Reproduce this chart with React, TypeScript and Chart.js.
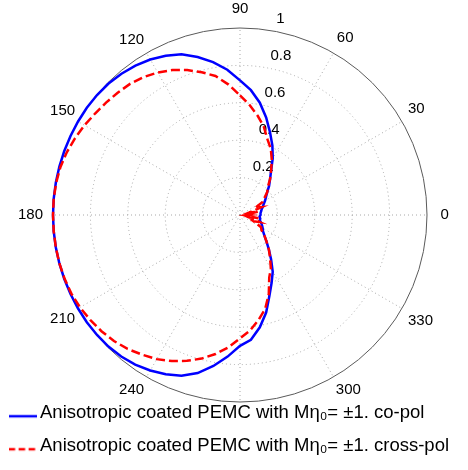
import React, { useEffect, useRef } from "react";
import { Chart, registerables } from "chart.js";

Chart.register(...registerables);

// Angle categories (degrees), in the order the radial chart walks round (clockwise from the top).
const ANGLES = [
  90, 85, 80, 75, 70, 65, 60, 55, 50, 45, 40, 35, 30, 25, 20, 15, 10, 5,
  0, 355, 350, 345, 340, 335, 330, 325, 320, 315, 310, 305, 300, 295, 290, 285,
  280, 275, 270, 265, 260, 255, 250, 245, 240, 235, 230, 225, 220, 215, 210, 205,
  200, 195, 190, 185, 180, 175, 170, 165, 160, 155, 150, 145, 140, 135, 130, 125,
  120, 115, 110, 105, 100, 95,
];

// Co-pol pattern (normalised), same order as ANGLES.
const CO_POL = [
  0.72, 0.67, 0.61, 0.54, 0.47, 0.41, 0.35, 0.29, 0.25, 0.22, 0.19, 0.17, 0.155, 0.14, 0.13, 0.12, 0.115, 0.11,
  0.11, 0.105, 0.11, 0.11, 0.12, 0.13, 0.14, 0.15, 0.17, 0.2, 0.24, 0.29, 0.35, 0.4, 0.46, 0.54,
  0.61, 0.67, 0.7, 0.76, 0.82, 0.875, 0.915, 0.94, 0.96, 0.977, 0.988, 0.995, 0.998, 1.0, 1.0, 1.0,
  1.0, 1.0, 1.0, 1.0, 1.0, 1.0, 1.0, 1.0, 1.0, 1.0, 1.0, 1.0, 0.998, 0.994, 0.986, 0.975,
  0.96, 0.94, 0.915, 0.875, 0.83, 0.78,
];

// Cross-pol pattern (normalised), same order as ANGLES; noisy near 0 degrees.
const CROSS_POL = [
  0.64, 0.59, 0.54, 0.49, 0.43, 0.39, 0.34, 0.29, 0.25, 0.21, 0.19, 0.16, 0.14, 0.09, 0.12, 0.05, 0.1, 0.03,
  0.05, 0.03, 0.1, 0.05, 0.11, 0.08, 0.13, 0.14, 0.17, 0.2, 0.24, 0.28, 0.33, 0.37, 0.45, 0.52,
  0.57, 0.62, 0.66, 0.71, 0.755, 0.795, 0.83, 0.862, 0.89, 0.912, 0.935, 0.953, 0.967, 0.978, 0.988, 0.995,
  0.998, 1.0, 1.0, 1.0, 1.0, 1.0, 0.998, 0.994, 0.985, 0.973, 0.96, 0.946, 0.935, 0.925, 0.915, 0.9,
  0.88, 0.855, 0.825, 0.79, 0.755, 0.7,
];

// Angle labels printed by the radial scale (90 is printed beside the ticks; 270 sits under the legend).
const SHOWN_ANGLES = [0, 30, 60, 120, 150, 180, 210, 240, 300, 330];
const TOP_ANGLE_LABEL = "90";
const SPOKE_ANGLES = [0, 30, 60, 90, 120, 150, 180, 210, 240, 270, 300, 330];
const RADIAL_TICKS = [0.2, 0.4, 0.6, 0.8, 1];

const SERIES_NAMES = [
  "Anisotropic coated PEMC with M\u03B7\u2080= \u00B11. co-pol",
  "Anisotropic coated PEMC with M\u03B7\u2080= \u00B11. cross-pol",
];

const FONT_FAMILY = "Arial, 'Liberation Sans', Helvetica, sans-serif";

// Label gap (px) outside the outer circle for each printed angle label.
const LABEL_GAP: Record<number, number> = {
  0: 13.5, 30: 7, 60: 6.7, 120: 4.7, 150: 3.4, 180: 10, 210: 3.4, 240: 4.7, 300: 4.7, 330: 7,
};

const radialTextPlugin = {
  id: "radialText",
  beforeDatasetsDraw(chart: any) {
    const scale = chart.scales.r;
    const ctx = chart.ctx;
    ctx.save();
    ctx.font = `15px ${FONT_FAMILY}`;
    ctx.fillStyle = "#000";
    ctx.textBaseline = "middle";
    ctx.textAlign = "left";
    const a = (81 * Math.PI) / 180;
    RADIAL_TICKS.forEach((v) => {
      const d = scale.getDistanceFromCenterForValue(v);
      ctx.fillText(String(v), scale.xCenter + d * Math.cos(a) + 7, scale.yCenter - d * Math.sin(a) - 11);
    });
    ctx.textAlign = "center";
    const outer = scale.getDistanceFromCenterForValue(1);
    ctx.fillText(TOP_ANGLE_LABEL, scale.xCenter, scale.yCenter - outer * 1.1);
    ctx.restore();
  },
};

function makeSwatch(color: string, dash: number[]) {
  const c = document.createElement("canvas");
  c.width = 28;
  c.height = 14;
  const g = c.getContext("2d");
  if (g) {
    g.strokeStyle = color;
    g.lineWidth = 2.5;
    g.setLineDash(dash);
    g.beginPath();
    g.moveTo(0, 10);
    g.lineTo(28, 10);
    g.stroke();
  }
  return c;
}

export default function App() {
  const canvasRef = useRef<HTMLCanvasElement | null>(null);

  useEffect(() => {
    document.body.style.margin = "0";
    document.body.style.overflow = "hidden";
    const canvas = canvasRef.current;
    if (!canvas) return;

    const swatches = [makeSwatch("#0000ff", []), makeSwatch("#ff0000", [6.5, 3.5])];
    const defaultLabels = (Chart.defaults as any).plugins.legend.labels.generateLabels;

    const chart = new Chart(canvas, {
      type: "radar",
      data: {
        labels: ANGLES,
        datasets: [
          {
            label: SERIES_NAMES[0],
            data: CO_POL,
            borderColor: "#0000ff",
            backgroundColor: "rgba(0,0,0,0)",
            borderWidth: 2.5,
            pointRadius: 0,
            pointHoverRadius: 0,
            fill: false,
            tension: 0,
            order: 1,
          },
          {
            label: SERIES_NAMES[1],
            data: CROSS_POL,
            borderColor: "#ff0000",
            backgroundColor: "rgba(0,0,0,0)",
            borderWidth: 2.5,
            borderDash: [9, 4],
            pointRadius: 0,
            pointHoverRadius: 0,
            fill: false,
            tension: 0,
            order: 0,
          },
        ],
      },
      options: {
        responsive: false,
        animation: false,
        events: [],
        layout: { padding: 0 },
        plugins: {
          tooltip: { enabled: false },
          legend: {
            display: true,
            position: "chartArea",
            align: "end",
            labels: {
              usePointStyle: true,
              pointStyleWidth: 16.25,
              padding: 14.5,
              color: "#000",
              font: { family: FONT_FAMILY, size: 18.5 },
              sort: (a: any, b: any) => a.datasetIndex - b.datasetIndex,
              generateLabels: (c: any) =>
                defaultLabels(c).map((it: any) => ({ ...it, pointStyle: swatches[it.datasetIndex] })),
            },
          },
        },
        scales: {
          r: {
            min: 0,
            max: 1,
            startAngle: 0,
            ticks: { display: false, stepSize: 0.2 },
            grid: {
              circular: true,
              lineWidth: 1,
              color: (c: any) => (c.tick && c.tick.value >= 1 ? "#5a5a5a" : "#a8a8a8"),
            },
            border: {
              dash: (c: any) => (c.tick && c.tick.value >= 1 ? [] : [1, 3]),
            },
            angleLines: {
              display: true,
              color: "#a8a8a8",
              borderDash: [1, 3],
              lineWidth: (c: any) => (SPOKE_ANGLES.includes(ANGLES[c.index]) ? 1 : 0),
            },
            pointLabels: {
              display: true,
              color: "#000",
              font: { family: FONT_FAMILY, size: 15 },
              callback: (label: any) => (SHOWN_ANGLES.includes(Number(label)) ? String(label) : ""),
              padding: (c: any) => {
                const a = ANGLES[c.index];
                if (a === 270) return 30; // room kept below the circle
                if (a === 90) return -9.5; // room kept above the circle
                if (LABEL_GAP[a] !== undefined) return LABEL_GAP[a];
                return -60;
              },
            },
          },
        },
      },
      plugins: [radialTextPlugin],
    });

    return () => chart.destroy();
  }, []);

  return (
    <div style={{ width: 468, height: 470, background: "#fff" }}>
      <canvas ref={canvasRef} width={468} height={470} style={{ display: "block" }} />
    </div>
  );
}
